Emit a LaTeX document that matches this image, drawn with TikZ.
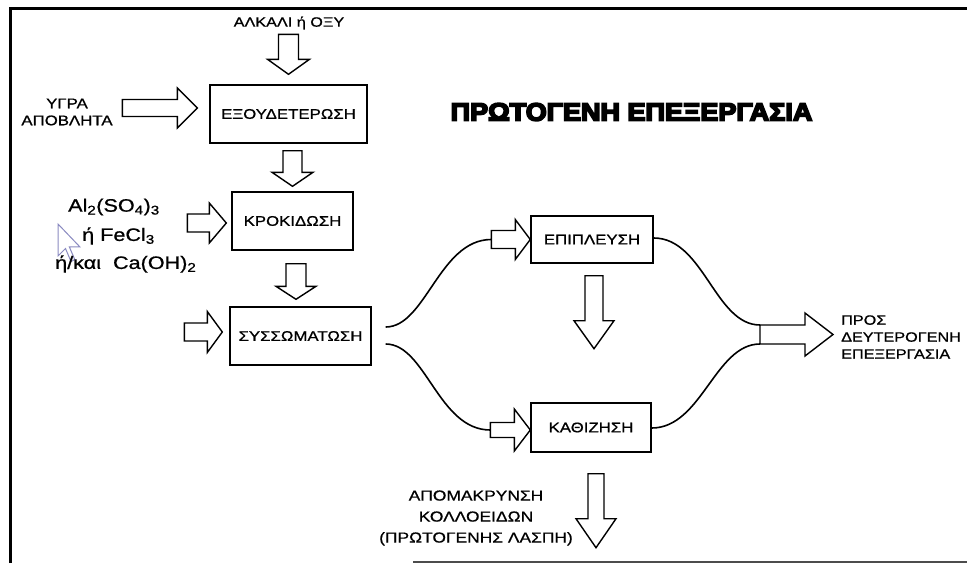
\documentclass[tikz,border=0pt]{standalone}
\usepackage{fontspec}
\usepackage{graphicx}
\setmainfont{Liberation Sans}[FakeStretch=1.2, FakeBold=0.8]
\newfontfamily\titlefont{Liberation Sans}[BoldFeatures={FakeBold=7, FakeStretch=1.08}]
\usetikzlibrary{calc}

% hollow block arrows: #1 start, #2 tip, #3 half shaft, #4 half head, #5 head length
\newcommand\DownBlock[5]{%
  \draw[blk] let \p1=(#1), \p2=(#2) in
    (\x1-#3pt,\y1) -- (\x1+#3pt,\y1) -- (\x1+#3pt,\y2+#5pt) -- (\x1+#4pt,\y2+#5pt)
    -- (\x1,\y2) -- (\x1-#4pt,\y2+#5pt) -- (\x1-#3pt,\y2+#5pt) -- cycle;}
\newcommand\RightBlock[5]{%
  \draw[blk] let \p1=(#1), \p2=(#2) in
    (\x1,\y1+#3pt) -- (\x2-#5pt,\y1+#3pt) -- (\x2-#5pt,\y1+#4pt) -- (\x2,\y1)
    -- (\x2-#5pt,\y1-#4pt) -- (\x2-#5pt,\y1-#3pt) -- (\x1,\y1-#3pt) -- cycle;}

\tikzset{
  box/.style={draw, line width=1.4pt, inner sep=0pt, font=\fontsize{14}{16}\selectfont},
  lbl/.style={inner sep=0pt, font=\fontsize{14}{17}\selectfont, align=center},
  chem/.style={inner sep=0pt, anchor=west, font=\fontsize{18}{22}\selectfont},
  flow/.style={line width=1.6pt},
  blk/.style={draw, line width=1.4pt, fill=white, line join=miter},
  pointer/.style={draw=blue!30!gray!70, line width=1pt},
}

\begin{document}
\begin{tikzpicture}[x=1pt, y=-1pt]
  \useasboundingbox (0,0) rectangle (967,563);
  \fill[white] (0,0) rectangle (967,563);

  % frame
  \draw[line width=3pt] (10,563) -- (10,8) -- (967,8);
  \draw[line width=1.2pt, black!70] (413,562) -- (967,562);

  % process boxes
  \node[box, minimum width=157pt, minimum height=58pt] (neut) at (288.5,114) {ΕΞΟΥΔΕΤΕΡΩΣΗ};
  \node[box, minimum width=121pt, minimum height=58pt] (kro)  at (292.5,221) {ΚΡΟΚΙΔΩΣΗ};
  \node[box, minimum width=141pt, minimum height=58pt] (syss) at (300.5,336) {ΣΥΣΣΩΜΑΤΩΣΗ};
  \node[box, minimum width=122pt, minimum height=47pt] (epi)  at (592,239.5) {ΕΠΙΠΛΕΥΣΗ};
  \node[box, minimum width=120pt, minimum height=49pt] (kat)  at (591,427.5) {ΚΑΘΙΖΗΣΗ};

  % title
  \node[inner sep=0pt] (title) at (631.5,112)
    {\titlefont\bfseries\fontsize{25}{28}\selectfont ΠΡΩΤΟΓΕΝΗ ΕΠΕΞΕΡΓΑΣΙΑ};

  % inputs and outputs
  \node[lbl, font=\fontsize{13.5}{17}\selectfont] (alk) at (289,23) {ΑΛΚΑΛΙ ή ΟΞΥ};
  \node[lbl] (waste) at (67,112) {ΥΓΡΑ\\ΑΠΟΒΛΗΤΑ};
  \node[lbl, align=left, anchor=west, font=\fontsize{13.5}{17}\selectfont] (next) at (841,337)
    {ΠΡΟΣ\\ΔΕΥΤΕΡΟΓΕΝΗ\\ΕΠΕΞΕΡΓΑΣΙΑ};
  \node[lbl, font=\fontsize{14.5}{21}\selectfont] (sludge) at (476,518)
    {ΑΠΟΜΑΚΡΥΝΣΗ\\ΚΟΛΛΟΕΙΔΩΝ\\(ΠΡΩΤΟΓΕΝΗΣ ΛΑΣΠΗ)};

  % mouse pointer over the reagents
  \draw[pointer] (58,224) -- ++(0,32) -- ++(7.5,-7.5) -- ++(5.5,13) -- ++(3.8,-1.9)
    -- ++(-5.5,-12.8) -- ++(10.5,0) -- cycle;

  % coagulant reagents
  \node[chem] (chem1) at (68,207) {Al\textsubscript{2}(SO\textsubscript{4})\textsubscript{3}};
  \node[chem] (chem2) at (82,236) {ή FeCl\textsubscript{3}};
  \node[chem] (chem3) at (55,264) {ή/και\hspace{12pt}Ca(OH)\textsubscript{2}};

  % arrow end points
  \coordinate (a1s) at ($(neut.north)+(0,-50)$);
  \coordinate (a1e) at ($(neut.north)+(0,-10)$);
  \coordinate (a2s) at ($(neut.south)+(4,7)$);
  \coordinate (a2e) at ($(kro.north)+(0,-5)$);
  \coordinate (a3s) at ($(kro.south)+(3.5,13)$);
  \coordinate (a3e) at ($(syss.north)+(0,-7)$);
  \coordinate (a4s) at ($(neut.west)+(-87,-6)$);
  \coordinate (a4e) at ($(neut.west)+(-12,-6)$);
  \coordinate (a5s) at ($(kro.west)+(-44,2)$);
  \coordinate (a5e) at ($(kro.west)+(-5,2)$);
  \coordinate (a6s) at ($(syss.west)+(-45,-4)$);
  \coordinate (a6e) at ($(syss.west)+(-7,-4)$);
  \coordinate (a7s) at ($(epi.west)+(-39,0)$);
  \coordinate (a8s) at ($(kat.west)+(-40,2.5)$);
  \coordinate (a8e) at ($(kat.west)+(0,2.5)$);
  \coordinate (a9s) at ($(epi.south)+(2,12)$);
  \coordinate (a9e) at ($(epi.south)+(2,85)$);
  \coordinate (join) at (760,334.5);
  \coordinate (a10e) at ($(join)+(73,0)$);
  \coordinate (a11s) at ($(kat.south)+(5,21)$);
  \coordinate (a11e) at ($(kat.south)+(5,95)$);

  % branch and merge flow lines
  \draw[flow] ($(syss.east)+(14,-9)$) .. controls +(40,0) and +(-52,0) .. (a7s);
  \draw[flow] ($(syss.east)+(14,8)$) .. controls +(40,0) and +(-52,0) .. (a8s);
  \draw[flow] ($(epi.east)+(0,-1.5)$) .. controls +(50,0) and +(-45,0) .. ($(join)+(0,-9.5)$);
  \draw[flow] ($(kat.east)+(0,0.5)$) .. controls +(50,0) and +(-45,0) .. ($(join)+(0,9.5)$);

  % block arrows
  \DownBlock{a1s}{a1e}{10}{21}{15}
  \DownBlock{a2s}{a2e}{9.5}{20.5}{14}
  \DownBlock{a3s}{a3e}{10}{20}{13}
  \RightBlock{a4s}{a4e}{8.5}{20}{20}
  \RightBlock{a5s}{a5e}{9}{20}{17}
  \RightBlock{a6s}{a6e}{9}{20.5}{15}
  \RightBlock{a7s}{epi.west}{9}{20}{15}
  \RightBlock{a8s}{a8e}{7.5}{21}{16}
  \DownBlock{a9s}{a9e}{9}{20}{28}
  \RightBlock{join}{a10e}{9.5}{21.5}{28}
  \DownBlock{a11s}{a11e}{8}{20}{29}
\end{tikzpicture}
\end{document}
